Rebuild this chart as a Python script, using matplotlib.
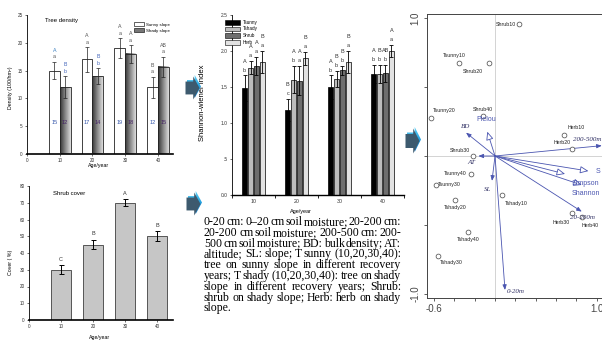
import matplotlib
matplotlib.use("Agg")
import matplotlib.pyplot as plt
import numpy as np
from matplotlib.patches import Rectangle, Polygon, Patch, FancyArrowPatch
from matplotlib.colors import LinearSegmentedColormap

W, H = 602, 340
plt.rcParams['font.family'] = ['Liberation Sans', 'DejaVu Sans']
fig = plt.figure(figsize=(6.02, 3.40), dpi=100)


def box(x0, y0, x1, y1):
    # pixel box (top-left origin) -> figure fraction
    return [x0 / W, 1 - y1 / H, (x1 - x0) / W, (y1 - y0) / H]


# =========================
# DATA
# =========================
ages = [10, 20, 30, 40]

# tree density
dens_sunny = [15, 17, 19, 12]
dens_sunny_err = [1.6, 2.2, 1.8, 1.9]
dens_shady = [12, 14, 18, 15.7]
dens_shady_err = [2.0, 1.4, 1.6, 1.8]
dens_sunny_up = ["A", "A", "A", "B"]
dens_sunny_lo = ["a", "a", "a", "a"]
dens_shady_up = ["B", "B", "A", "AB"]
dens_shady_lo = ["b", "b", "a", "a"]
dens_sunny_num = ["15", "17", "19", "12"]
dens_shady_num = ["12", "14", "18", "15"]

# shrub cover
cover = [30, 45, 70, 50]
cover_err = [2.6, 2.8, 2.2, 3.0]
cover_letters = ["C", "B", "A", "B"]

# shannon-wiener
sw_names = ["Tsunny", "Tshady", "Shrub", "Herb"]
sw_tsunny = [1.48, 1.18, 1.50, 1.68]
sw_tshady = [1.77, 1.60, 1.61, 1.68]
sw_shrub = [1.79, 1.59, 1.73, 1.69]
sw_herb = [1.85, 1.90, 1.85, 2.00]
sw_tsunny_err = [0.18, 0.15, 0.16, 0.13]
sw_tshady_err = [0.09, 0.19, 0.11, 0.13]
sw_shrub_err = [0.13, 0.20, 0.06, 0.12]
sw_herb_err = [0.15, 0.09, 0.15, 0.08]
sw_up = [["A", "B", "A", "A"], ["A", "A", "B", "B"], ["A", "A", "B", "AB"], ["B", "B", "B", "A"]]
sw_lo = [["b", "c", "b", "b"], ["a", "b", "b", "b"], ["a", "a", "b", "b"], ["a", "a", "a", "a"]]

# ordination (RDA) sites
site_names = ["Shrub10", "Tsunny10", "Shrub20", "Tsunny20", "Shrub40", "Herb10", "Herb20", "Shrub30",
              "Tshady10", "Tsunny40", "Tsunny30", "Tshady20", "Tshady40", "Tshady30", "Herb30", "Herb40"]
site_x = [0.236, -0.351, -0.056, -0.629, -0.115, 0.678, 0.760, -0.220,
          0.066, -0.236, -0.580, -0.393, -0.265, -0.564, 0.757, 0.853]
site_y = [0.954, 0.676, 0.676, 0.278, 0.290, 0.152, 0.049, 0.000,
          -0.283, -0.130, -0.210, -0.319, -0.553, -0.722, -0.415, -0.440]

# environmental vectors
env_names = ["BD", "AT", "SL", "0-20m", "20-200m", "200-500m"]
env_x = [-0.285, -0.164, -0.030, 0.098, 0.853, 1.050]
env_y = [0.169, 0.000, -0.180, -0.971, -0.403, 0.075]

# diversity vectors
div_names = ["Pielou", "S", "Simpson", "Shannon"]
div_x = [-0.076, 0.918, 0.688, 0.853]
div_y = [0.176, -0.109, -0.130, -0.210]

note_lines = [
    "0-20 cm: 0\u201320 cm soil moisture; 20-200 cm:",
    "20-200 cm soil moisture; 200-500 cm: 200-",
    "500 cm soil moisture; BD: bulk density; AT:",
    "altitude; SL: slope; T sunny (10,20,30,40):",
    "tree on sunny slope in different recovery",
    "years; T shady (10,20,30,40): tree on shady",
    "slope in different recovery years; Shrub:",
    "shrub on shady slope; Herb: herb on shady",
    "slope.",
]

tick_fs = 3.3
lab_fs = 3.8


def style_small(ax):
    for s in ["top", "right"]:
        ax.spines[s].set_visible(False)
    ax.spines["left"].set_linewidth(0.6)
    ax.spines["bottom"].set_linewidth(1.2)
    ax.tick_params(labelsize=tick_fs, length=1.5, width=0.5, pad=1.5, colors="#333333")


# =========================
# TREE DENSITY
# =========================
ax1 = fig.add_axes(box(27, 15, 173, 154))
bw = 3.3
shade_cmap = LinearSegmentedColormap.from_list("sh", ["#353535", "#8a8a8a", "#dddddd"])
for i, a in enumerate(ages):
    xs, xh = a - bw / 2, a + bw / 2
    ax1.bar(xs, dens_sunny[i], bw, color="white", edgecolor="#222222", lw=0.6, zorder=2)
    ax1.errorbar(xs, dens_sunny[i], yerr=dens_sunny_err[i], fmt="none", ecolor="#222222",
                 elinewidth=0.5, capsize=1.5, capthick=0.5, zorder=4)
    ax1.imshow(np.linspace(0, 1, 64).reshape(1, -1), extent=[xh - bw / 2, xh + bw / 2, 0, dens_shady[i]],
               cmap=shade_cmap, aspect="auto", zorder=2)
    ax1.bar(xh, dens_shady[i], bw, fill=False, edgecolor="#222222", lw=0.6, zorder=3)
    ax1.errorbar(xh, dens_shady[i], yerr=dens_shady_err[i], fmt="none", ecolor="#222222",
                 elinewidth=0.5, capsize=1.5, capthick=0.5, zorder=4)
    top_s = dens_sunny[i] + dens_sunny_err[i]
    top_h = dens_shady[i] + dens_shady_err[i]
    col_s = "#3a7fc0" if i == 0 else "#555555"
    ax1.text(xs, top_s + 0.9, dens_sunny_lo[i], ha="center", va="center", fontsize=3.8, color="#555555")
    ax1.text(xs, top_s + 2.1, dens_sunny_up[i], ha="center", va="center", fontsize=3.8, color=col_s)
    col_h = "#4466bb" if i < 2 else "#555555"
    ax1.text(xh, top_h + 0.9, dens_shady_lo[i], ha="center", va="center", fontsize=3.8, color=col_h)
    ax1.text(xh, top_h + 2.1, dens_shady_up[i], ha="center", va="center", fontsize=3.8, color=col_h)
    ax1.text(xs, 5.6, dens_sunny_num[i], ha="center", va="center", fontsize=4, color="#3355aa", zorder=5)
    ax1.text(xh, 5.6, dens_shady_num[i], ha="center", va="center", fontsize=4, color="#442266", zorder=5)
ax1.set_xlim(0, 44.6)
ax1.set_ylim(0, 25)
ax1.set_xticks([0, 10, 20, 30, 40])
ax1.set_yticks([0, 5, 10, 15, 20, 25])
style_small(ax1)
ax1.set_xlabel("Age/year", fontsize=lab_fs)
ax1.xaxis.set_label_coords(0.49, -0.065)
ax1.set_ylabel("Density (100/hm\u00b2)", fontsize=lab_fs)
ax1.yaxis.set_label_coords(-0.098, 0.48)
ax1.text(0.12, 0.975, "Tree density", transform=ax1.transAxes, fontsize=4.3, va="top")
leg1 = ax1.legend(handles=[Patch(fc="white", ec="#222222", lw=0.5, label="Sunny slope"),
                           Patch(fc="#777777", ec="#222222", lw=0.5, label="Shady slope")],
                  loc="upper right", bbox_to_anchor=(1.0, 0.97), fontsize=3.2, frameon=False,
                  handlelength=2.2, handleheight=0.9, handletextpad=0.4, labelspacing=0.4, borderpad=0.2)

# =========================
# SHRUB COVER
# =========================
ax2 = fig.add_axes(box(29, 186, 173, 320))
ax2.bar(ages, cover, 6, color="#c6c6c6", edgecolor="#555555", lw=0.7, zorder=2)
ax2.errorbar(ages, cover, yerr=cover_err, fmt="none", ecolor="black", elinewidth=0.7,
             capsize=1.8, capthick=0.7, zorder=3)
for a, v, e, l in zip(ages, cover, cover_err, cover_letters):
    ax2.text(a, v + e + 3.6, l, ha="center", va="center", fontsize=4, color="#333333")
ax2.set_xlim(0, 45)
ax2.set_ylim(0, 80)
ax2.set_xticks([0, 10, 20, 30, 40])
ax2.set_yticks(range(0, 81, 10))
style_small(ax2)
ax2.set_xlabel("Age/year", fontsize=lab_fs)
ax2.xaxis.set_label_coords(0.49, -0.11)
ax2.set_ylabel("Cover ( %)", fontsize=lab_fs)
ax2.yaxis.set_label_coords(-0.11, 0.43)
ax2.text(0.17, 0.965, "Shrub cover", transform=ax2.transAxes, fontsize=4.3, va="top")

# =========================
# SHANNON-WIENER
# =========================
ax3 = fig.add_axes(box(232, 15, 404, 195))
sw_vals = [sw_tsunny, sw_tshady, sw_shrub, sw_herb]
sw_errs = [sw_tsunny_err, sw_tshady_err, sw_shrub_err, sw_herb_err]
sw_colors = ["black", "#bdbdbd", "#6e6e6e", "#e2e2e2"]
step, bw3 = 1.37, 1.22
for k in range(4):
    xs = [a + (k - 1.5) * step for a in ages]
    ax3.bar(xs, sw_vals[k], bw3, color=sw_colors[k], edgecolor="black", lw=0.5, zorder=2)
    ax3.errorbar(xs, sw_vals[k], yerr=sw_errs[k], fmt="none", ecolor="black", elinewidth=0.6,
                 capsize=1.5, capthick=0.6, zorder=3)
    for x, v, e, u, lo in zip(xs, sw_vals[k], sw_errs[k], sw_up[k], sw_lo[k]):
        ax3.text(x, v + e + 0.075, lo, ha="center", va="center", fontsize=4, color="#333333", zorder=6)
        ax3.text(x, v + e + 0.2, u, ha="center", va="center", fontsize=4, color="#333333", zorder=6)
ax3.set_xlim(5, 44.7)
ax3.set_ylim(0, 2.5)
ax3.set_xticks(ages)
ax3.set_xticks([5, 15, 25, 35, 45], minor=True)
ax3.set_yticks([0, 0.5, 1.0, 1.5, 2.0, 2.5])
ax3.set_yticklabels(["0.0", ".5", "1.0", "1.5", "2.0", "2.5"])
for s in ["top", "right"]:
    ax3.spines[s].set_visible(False)
ax3.spines["left"].set_linewidth(0.6)
ax3.spines["bottom"].set_linewidth(1.0)
ax3.tick_params(axis="x", which="major", length=0, labelsize=3.8, pad=3, colors="#333333")
ax3.tick_params(axis="x", which="minor", length=2.5, width=0.6, direction="out")
ax3.tick_params(axis="y", labelsize=3.5, length=1.5, width=0.5, pad=1.5, colors="#333333")
ax3.set_xlabel("Age/year", fontsize=4)
ax3.xaxis.set_label_coords(0.4, -0.078)
ax3.set_ylabel("Shannon-wiener Index", fontsize=5.5)
ax3.yaxis.set_label_coords(-0.15, 0.51)
for k, name in enumerate(sw_names):
    yk = 0.96 - k * 0.037
    ax3.add_patch(Rectangle((-0.04, yk - 0.013), 0.087, 0.026, transform=ax3.transAxes,
                            fc=sw_colors[k], ec="black", lw=0.4, clip_on=False, zorder=5))
    ax3.text(0.064, yk, name, transform=ax3.transAxes, fontsize=3.3, va="center", zorder=5)

# =========================
# NOTE TEXT (justified)
# =========================
renderer = fig.canvas.get_renderer()
x_left, x_right = 204, 401
y_base, line_step = 225, 10.8
note_fs = 8.5
for i, line in enumerate(note_lines):
    words = line.split(" ")
    yf = 1 - (y_base + i * line_step) / H
    ts = [fig.text(0, yf, w, fontsize=note_fs, family="Liberation Serif", va="baseline") for w in words]
    widths = [t.get_window_extent(renderer).width for t in ts]
    if i == len(note_lines) - 1 or len(words) == 1:
        gap = 0.25 * note_fs * 100 / 72
    else:
        gap = (x_right - x_left - sum(widths)) / (len(words) - 1)
    x = x_left
    for t, wd in zip(ts, widths):
        t.set_x(x / W)
        x += wd + gap

# =========================
# ORDINATION
# =========================
ax4 = fig.add_axes(box(427, 14, 602, 298))
ax4.set_xlim(-0.669, 1.052)
ax4.set_ylim(-1.029, 1.029)
ax4.axhline(0, color="#cccccc", lw=0.6, zorder=0)
ax4.axvline(0, color="#cccccc", lw=0.6, zorder=0)
ax4.spines["right"].set_visible(False)
for s in ["left", "bottom", "top"]:
    ax4.spines[s].set_linewidth(0.7)
    ax4.spines[s].set_color("#444444")
ax4.set_xticks(np.arange(-0.6, 1.01, 0.2))
ax4.set_xticklabels(["-0.6", "", "", "", "", "", "", "", "1.0"])
ax4.set_yticks([-1.0, -0.5, 0, 0.5, 1.0])
ax4.set_yticklabels(["-1.0", "", "", "", "1.0"], rotation=90, va="center")
ax4.tick_params(labelsize=7, length=2.5, width=0.6, pad=1.5, colors="#444444")
ax4.tick_params(axis="y", pad=2)

blue = "#4a55b0"
for name, x, y in zip(env_names, env_x, env_y):
    ax4.add_patch(FancyArrowPatch((0, 0), (x, y), arrowstyle="-|>,head_length=3,head_width=1.2",
                                  color=blue, lw=0.6, shrinkA=0, shrinkB=0, zorder=3, clip_on=False))
for name, x, y in zip(div_names, div_x, div_y):
    ax4.add_patch(FancyArrowPatch((0, 0), (x, y), arrowstyle="-|>,head_length=5,head_width=2.2",
                                  facecolor="white", edgecolor=blue, lw=0.6, shrinkA=0, shrinkB=0,
                                  zorder=3, clip_on=False))

ax4.scatter(site_x, site_y, s=12, facecolors="white", edgecolors="#444444", linewidths=0.5, zorder=4)

site_off = {
    "Shrub10": (-2.5, 0, "right"), "Tsunny10": (-5, 7.7, "center"), "Shrub20": (-16, -8.3, "center"),
    "Tsunny20": (2, 6.7, "left"), "Shrub40": (0, 6, "center"), "Herb10": (12.5, 7.3, "center"),
    "Herb20": (-1.3, 6.6, "right"), "Shrub30": (-2.7, 6, "right"), "Tshady10": (3.3, -8.3, "left"),
    "Tsunny40": (-4, 0, "right"), "Tsunny30": (2, 0, "left"), "Tshady20": (0.5, -7.3, "center"),
    "Tshady40": (0, -7, "center"), "Tshady30": (2.3, -7, "left"), "Herb30": (-2, -9, "right"),
    "Herb40": (0, -8.3, "left"),
}
for name, x, y in zip(site_names, site_x, site_y):
    dx, dy, ha = site_off[name]
    ax4.annotate(name, (x, y), xytext=(dx, dy), textcoords="offset pixels", ha=ha, va="center",
                 fontsize=3.8, color="#222222", zorder=5)

env_lab = {
    "BD": (-0.285, 0.212, "center"), "AT": (-0.236, -0.05, "center"), "SL": (-0.069, -0.24, "center"),
    "0-20m": (0.118, -0.98, "left"), "20-200m": (0.737, -0.447, "left"), "200-500m": (0.767, 0.116, "left"),
}
for name in env_names:
    lx, ly, ha = env_lab[name]
    ax4.text(lx, ly, name, ha=ha, va="center", fontsize=5, family="Liberation Serif",
             style="italic", color="#333366", zorder=5)

div_lab = {
    "Pielou": (-0.187, 0.266), "S": (0.99, -0.109), "Simpson": (0.757, -0.196), "Shannon": (0.757, -0.275),
}
for name in div_names:
    lx, ly = div_lab[name]
    ax4.text(lx, ly, name, ha="left", va="center", fontsize=5, color=blue, zorder=5)


# =========================
# BLUE BLOCK ARROWS
# =========================
arrow_cmap = LinearSegmentedColormap.from_list("bl", ["#62d3f6", "#22a0e0", "#1a7fcc"])


def block_arrow(x0, y0, w, h):
    axa = fig.add_axes(box(x0 - 2, y0, x0 + w, y0 + h + 2))
    axa.axis("off")

    def shape(dx, dy):
        return [(x0 + dx, y0 + 0.22 * h + dy), (x0 + 0.55 * w + dx, y0 + 0.22 * h + dy),
                (x0 + 0.55 * w + dx, y0 + dy), (x0 + w + dx, y0 + 0.5 * h + dy),
                (x0 + 0.55 * w + dx, y0 + h + dy), (x0 + 0.55 * w + dx, y0 + 0.78 * h + dy),
                (x0 + dx, y0 + 0.78 * h + dy)]

    axa.add_patch(Polygon(shape(-1.5, 1.5), closed=True, fc="#3d5a6e", ec="none"))
    main = Polygon(shape(0, 0), closed=True, fc="none", ec="none")
    axa.add_patch(main)
    im = axa.imshow(np.linspace(0, 1, 50).reshape(-1, 1), extent=[x0, x0 + w, y0 + h, y0],
                    cmap=arrow_cmap, aspect="auto")
    im.set_clip_path(main)
    axa.set_xlim(x0 - 2, x0 + w)
    axa.set_ylim(y0 + h + 2, y0)


block_arrow(187, 75, 14, 23)
block_arrow(188, 191, 14, 23)
block_arrow(407, 127, 14, 25)

fig.savefig("out.png", dpi=100)
